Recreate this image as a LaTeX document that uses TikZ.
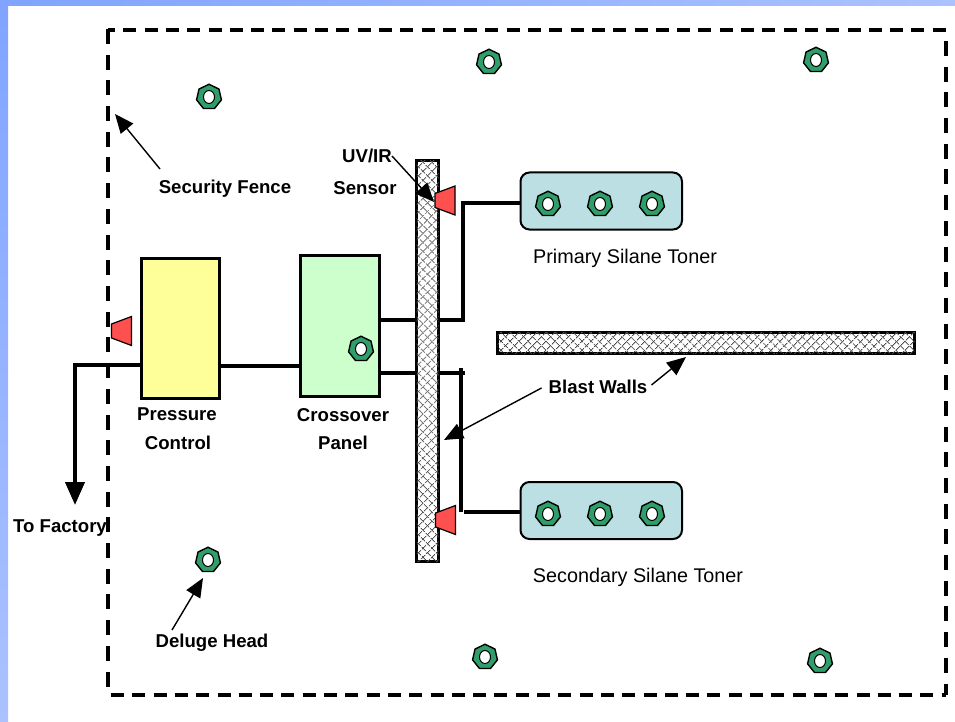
\documentclass[tikz,border=0pt]{standalone}
\usepackage{fontspec}
\setmainfont{Liberation Sans}
\usetikzlibrary{positioning, shapes.geometric, patterns.meta, arrows.meta}

\definecolor{slideblue}{HTML}{80A4FF}
\definecolor{slidepale}{HTML}{ABC2FF}
\definecolor{headgreen}{HTML}{2F9E6B}
\definecolor{sensorred}{HTML}{FF5050}
\definecolor{tonerblue}{HTML}{BBDFE3}
\definecolor{pressureyellow}{HTML}{FFFF99}
\definecolor{crossovergreen}{HTML}{CCFFCC}

\begin{document}
\begin{tikzpicture}
% Style
[
    x=1pt, y=-1pt,
    panel/.style={draw, line width=3pt, minimum width=78.5pt, anchor=north west, inner sep=0pt, outer sep=0pt},
    toner/.style={draw, line width=2pt, rounded corners=9pt, fill=tonerblue, minimum width=161.5pt, minimum height=57pt, anchor=north west, outer sep=0pt},
    wall/.style={
        draw, line width=3pt, fill=white, inner sep=0pt, outer sep=0pt, anchor=north west,
        postaction={pattern={Lines[angle=45, distance=6.5pt, line width=.9pt]}, pattern color=black!70},
        postaction={pattern={Lines[angle=-45, distance=6.5pt, line width=.9pt]}, pattern color=black!70}
    },
    head/.style={
        draw, line width=1.4pt, fill=headgreen, regular polygon, regular polygon sides=7,
        minimum size=25.5pt, inner sep=0pt, outer sep=0pt,
        label={[hole]center:{}}
    },
    hole/.style={draw, line width=1pt, fill=white, ellipse, minimum width=11pt, minimum height=13pt, inner sep=0pt},
    sensor/.style={draw, line width=1.2pt, fill=sensorred},
    pipe/.style={line width=3.5pt},
    fencetop/.style={line width=4pt, dash pattern=on 13pt off 8.3pt},
    fenceside/.style={line width=4pt, dash pattern=on 15pt off 10.7pt},
    pointer/.style={line width=1.4pt, -{Triangle[length=19pt, width=16pt]}},
    callout/.style={font=\fontsize{18.6}{22}\selectfont\bfseries, inner sep=0pt},
    caption/.style={font=\fontsize{19.8}{24}\selectfont, inner sep=0pt}
]

\useasboundingbox (0,0) rectangle (955,722);

%=================================== Start ===================================
% slide edge
\shade[left color=slideblue, right color=slidepale] (0,0) rectangle (955,6);
\shade[top color=slideblue, bottom color=slidepale] (0,0) rectangle (8,722);

% fence
\coordinate (fence-nw) at (108,30);
\coordinate (fence-ne) at (946,30);
\coordinate (fence-sw) at (108,695);
\coordinate (fence-se) at (946,695);
\draw[fencetop, dash phase=6pt] (fence-nw) -- (fence-ne);
\draw[fencetop] (fence-sw) ++(3,0) -- (fence-se);
\draw[fenceside] (fence-nw) ++(0,-1) -- (fence-sw);
\draw[fenceside] (fence-ne) ++(0,11) -- (fence-se);

% boxes
\node[panel, fill=pressureyellow, minimum height=140pt] (pressure) at (141,258) {};
\node[panel, fill=crossovergreen, minimum height=141pt] (crossover) at (300.5,255.5) {};
\node[toner] (toner-p) at (520.5,172.5) {};
\node[toner] (toner-s) at (520.5,482) {};

% pipes
\coordinate (drop) at (75,505);
\coordinate (riser-p) at (463,320);
\coordinate (feed-p) at (463,203);
\coordinate (riser-s-t) at (461,368);
\coordinate (riser-s-b) at (461,512);
\coordinate (feed-s) at (464,512);
\coordinate (tee-s) at (465,373);
\draw[pipe] (pressure.east |- 0,366) -- (crossover.west |- 0,366);
\draw[pipe] (crossover.east |- riser-p) -- (riser-p) -- (feed-p) -- (feed-p -| toner-p.west);
\draw[pipe] (crossover.east |- tee-s) -- (tee-s);
\draw[pipe] (riser-s-t) -- (riser-s-b);
\draw[pipe] (feed-s) -- (feed-s -| toner-s.west);
\draw[line width=4pt, -{Triangle[length=23pt, width=19pt]}] (pressure.west |- 0,365) -| (drop);

% walls
\node[wall, minimum width=22pt, minimum height=400pt] (wall-v) at (416.5,161) {};
\node[wall, minimum width=417pt, minimum height=21pt] (wall-h) at (497.5,332) {};

% sensors
\foreach \n/\x/\y in {a/445/200.5, b/445.5/520, c/121.5/331} {
    \coordinate (sensor-\n) at (\x,\y);
    \draw[sensor] ([shift={(-10,-7)}]sensor-\n) -- ([shift={(10,-14.5)}]sensor-\n)
        -- ([shift={(10,14.5)}]sensor-\n) -- ([shift={(-10,7)}]sensor-\n) -- cycle;
}

% heads
\foreach \x/\y [count=\i] in {209/97, 489/62, 816/60, 361/349, 208/560, 485/657, 820/661} {
    \node[head] (head-\i) at (\x,\y) {};
}
\foreach \x [count=\i] in {548,600,652} {
    \node[head] (head-p-\i) at (\x,204) {};
    \node[head] (head-s-\i) at (\x,514) {};
}

% labels
\node[callout] (lbl-fence) at (225,189) {Security Fence};
\node[callout] (lbl-uv) at (367,156) {UV/IR};
\node[callout] (lbl-sensor) at (365,188) {Sensor};
\node[callout] (lbl-pressure) at (177,414) {Pressure};
\node[callout] (lbl-control) at (178,443) {Control};
\node[callout] (lbl-crossover) at (343,415) {Crossover};
\node[callout] (lbl-panel) at (343,443) {Panel};
\node[callout] (lbl-factory) at (60,528) {To Factory};
\node[callout] (lbl-deluge) at (212,643) {Deluge Head};
\node[callout] (lbl-blast) at (598,387) {Blast Walls};
\node[caption] (lbl-primary) at (625,258) {Primary Silane Toner};
\node[caption] (lbl-secondary) at (638,577) {Secondary Silane Toner};

% pointers
\coordinate (tip-fence) at (115,114);
\coordinate (tip-uv) at (434,202);
\coordinate (tip-blast-v) at (444,440);
\coordinate (tip-blast-h) at (686,357);
\coordinate (tip-deluge) at (203,578);
\draw[pointer] (160,169) -- (tip-fence);
\draw[pointer] (lbl-uv.east) -- (tip-uv);
\draw[pointer] (lbl-blast.west) ++(-7,1) -- (tip-blast-v);
\draw[pointer] (lbl-blast.east) ++(4,-2) -- (tip-blast-h);
\draw[pointer] (172,630) -- (tip-deluge);
%==================================== END ====================================

\end{tikzpicture}
\end{document}
